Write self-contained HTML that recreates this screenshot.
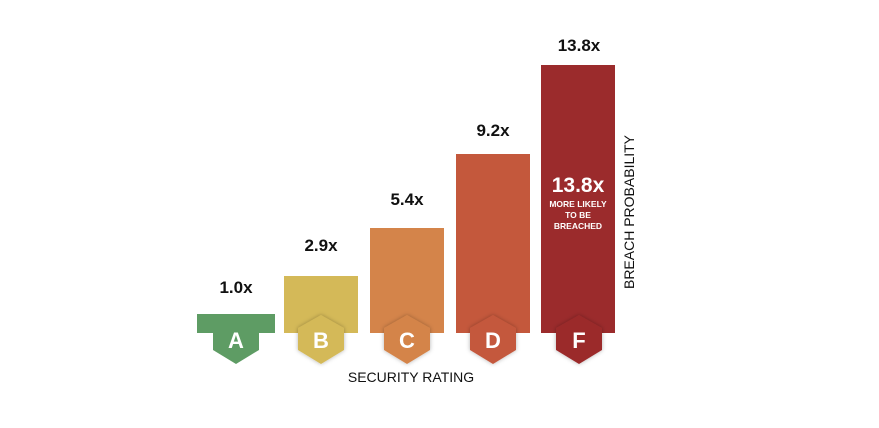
<!DOCTYPE html>
<html><head><style>body{margin:0;background:#fff}</style></head><body>
<svg width="879" height="423" viewBox="0 0 879 423" xmlns="http://www.w3.org/2000/svg" font-family="Liberation Sans, sans-serif" font-weight="bold">
<defs><filter id="s" x="-20%" y="-20%" width="140%" height="140%"><feDropShadow dx="0" dy="0" stdDeviation="2" flood-opacity="0.3"/></filter></defs>
<rect x="197" y="314" width="78" height="19" fill="#5e9c64"/>
<path d="M213 314 H259 V350 L236 364 L213 350 Z" fill="#5e9c64"/>
<rect x="284" y="276" width="74" height="57" fill="#d4b958"/>
<path d="M321 315 L344 328 V350 L321 364 L298 350 V328 Z" fill="#d4b958" filter="url(#s)"/>
<rect x="370" y="228" width="74" height="105" fill="#d4844a"/>
<path d="M407 315 L430 328 V350 L407 364 L384 350 V328 Z" fill="#d4844a" filter="url(#s)"/>
<rect x="456" y="154" width="74" height="179" fill="#c4583c"/>
<path d="M493 315 L516 328 V350 L493 364 L470 350 V328 Z" fill="#c4583c" filter="url(#s)"/>
<rect x="541" y="65" width="74" height="268" fill="#9b2b2c"/>
<path d="M579 315 L602 328 V350 L579 364 L556 350 V328 Z" fill="#9b2b2c" filter="url(#s)"/>
<g fill="#fff" font-size="22" text-anchor="middle">
<text x="236" y="348">A</text><text x="321" y="348">B</text><text x="407" y="348">C</text><text x="493" y="348">D</text><text x="579" y="348">F</text>
</g>
<g fill="#111" font-size="17" text-anchor="middle">
<text x="236" y="293">1.0x</text><text x="321" y="251">2.9x</text><text x="407" y="205">5.4x</text><text x="493" y="136">9.2x</text><text x="579" y="51">13.8x</text>
</g>
<text x="578" y="192" fill="#fff" font-size="21" text-anchor="middle">13.8x</text>
<g fill="#fff" font-size="8.5" text-anchor="middle">
<text x="578" y="207">MORE LIKELY</text><text x="578" y="218">TO BE</text><text x="578" y="229">BREACHED</text>
</g>
<text x="411" y="382" font-size="14" font-weight="normal" fill="#111" text-anchor="middle">SECURITY RATING</text>
<text transform="translate(634,212) rotate(-90)" font-size="14" font-weight="normal" fill="#111" text-anchor="middle">BREACH PROBABILITY</text>
</svg>
</body></html>
